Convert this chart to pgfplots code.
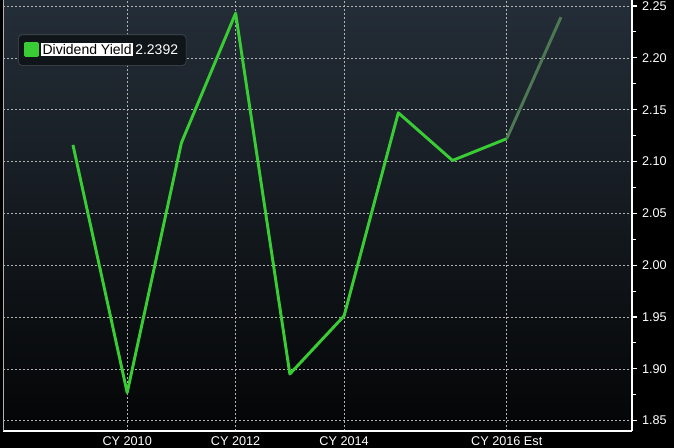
\documentclass[border=0pt]{standalone}
\usepackage{pgfplots}
\pgfplotsset{compat=1.18}
\usepackage{fontspec}
\setmainfont{Liberation Sans}
\definecolor{bbgreen}{RGB}{58,204,52}
\definecolor{bbfade}{RGB}{78,120,84}
\definecolor{bbtop}{RGB}{36,46,56}
\definecolor{bbbot}{RGB}{4,5,6}
\setlength{\fboxsep}{1pt}
\begin{document}
\begin{tikzpicture}
% black page behind everything, 674x448 px at 0.75pt/px
\path[use as bounding box] (0,0) rectangle (505.5pt,336pt);
\fill[black] (0,0) rectangle (505.5pt,336pt);
\begin{axis}[
    at={(2.25pt,12.75pt)}, anchor=south west,
    scale only axis, width=471.75pt, height=323.25pt,
    xmin=-1.29, xmax=10.31,
    ymin=1.840, ymax=2.2558,
    axis x line=bottom, axis y line=right,
    axis line style={-, white, line width=1.1pt},
    axis background/.style={top color=bbtop, bottom color=bbbot},
    xtick={1,3,5,8},
    xticklabels={CY 2010, CY 2012, CY 2014, CY 2016 Est},
    x tick style={draw=none},
    ytick={1.85,1.90,...,2.26},
    minor y tick num=1,
    y tick style={white, line width=0.8pt},
    tick align=outside,
    major tick length=4pt, minor tick length=3pt,
    yticklabel style={/pgf/number format/fixed, /pgf/number format/precision=2,
        /pgf/number format/fixed zerofill, /pgf/number format/assume math mode=true},
    ticklabel style={text=white, font=\fontsize{9.5}{11}\selectfont},
    xticklabel style={yshift=3pt},
    grid=major,
    major grid style={gray!60, line width=0.4pt, dash pattern=on 1.5pt off 1.5pt},
    legend style={at={(0.024,0.92)}, anchor=north west,
        fill={rgb,255:red,16;green,21;blue,26},
        draw={rgb,255:red,72;green,78;blue,84},
        rounded corners=3pt, text=white,
        font=\fontsize{10.5}{12}\selectfont,
        inner xsep=4pt, inner ysep=4.5pt},
    legend cell align=left,
    legend image code/.code={\fill[bbgreen, sharp corners] (0pt,-3.8pt) rectangle (9pt,5.2pt);},
    clip=false,
]
\draw[gray!60, line width=0.6pt] (rel axis cs:0,0) -- (rel axis cs:0,1);
\addplot[bbgreen, line width=2.2pt, line join=round] coordinates {
    (0, 2.116) (1, 1.877) (2, 2.118) (3, 2.243) (4, 1.895)
    (5, 1.951) (6, 2.147) (7, 2.101) (8, 2.122)
};
\addlegendentry{\colorbox{white}{\textcolor{black}{Dividend Yield}}\,2.2392}
\addplot[bbfade, line width=2.2pt, forget plot] coordinates {
    (8, 2.122) (9, 2.2392)
};
\end{axis}
\end{tikzpicture}
\end{document}
